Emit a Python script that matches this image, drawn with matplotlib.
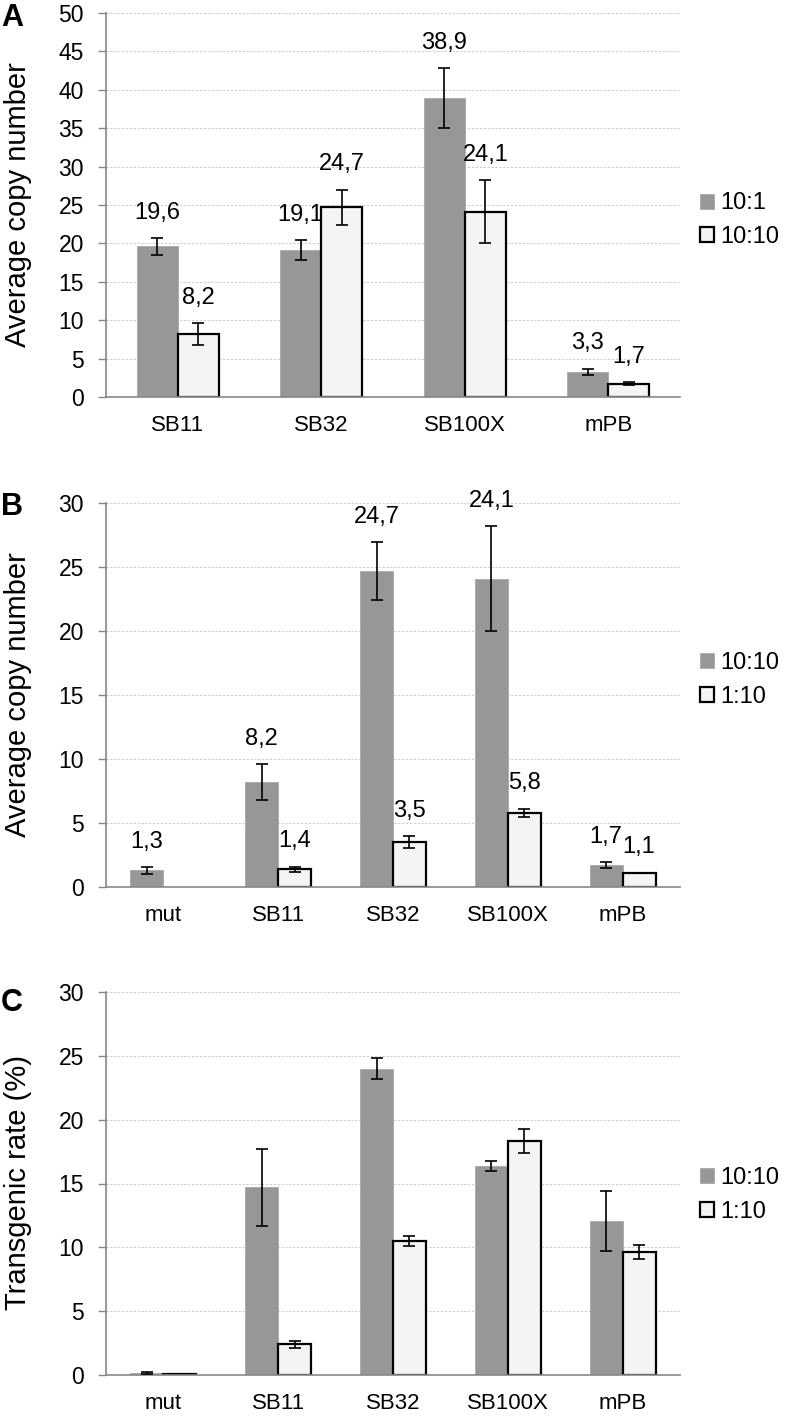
import numpy as np
import matplotlib.pyplot as plt
from matplotlib.patches import Patch

plt.rcParams['font.family'] = ['Liberation Sans', 'DejaVu Sans']

# panel A
cats_a = ['SB11', 'SB32', 'SB100X', 'mPB']
a_101 = [19.6, 19.1, 38.9, 3.3]
a_101_err = [1.1, 1.3, 3.9, 0.4]
a_1010 = [8.2, 24.7, 24.1, 1.7]
a_1010_err = [1.4, 2.3, 4.1, 0.2]

# panels B and C
cats_bc = ['mut', 'SB11', 'SB32', 'SB100X', 'mPB']
b_1010 = [1.3, 8.2, 24.7, 24.1, 1.7]
b_1010_err = [0.25, 1.4, 2.25, 4.1, 0.25]
b_110 = [np.nan, 1.4, 3.5, 5.8, 1.1]
b_110_err = [0.0, 0.2, 0.45, 0.3, 0.0]

c_1010 = [0.15, 14.7, 24.0, 16.4, 12.1]
c_1010_err = [0.08, 3.0, 0.85, 0.4, 2.35]
c_110 = [0.1, 2.4, 10.5, 18.3, 9.6]
c_110_err = [0.0, 0.28, 0.4, 0.95, 0.55]

GRAY = '#979797'
LIGHT = '#f4f4f4'
AXC = '#878787'


def draw_panel(ax, cats, s1, e1, s2, e2, ymax, names, labels, leg_y):
    x = np.arange(len(cats))
    w = 0.287
    s1 = np.array(s1, dtype=float)
    s2 = np.array(s2, dtype=float)
    e1 = np.array(e1, dtype=float)
    e2 = np.array(e2, dtype=float)
    ax.set_axisbelow(True)
    ax.yaxis.grid(True, color='#cdcdcd', linestyle=(0, (2, 1.5)), linewidth=0.8)
    ax.bar(x - w / 2, s1, w, color=GRAY, edgecolor='#a8a8a8', linewidth=0.6, zorder=2)
    ok = ~np.isnan(s2)
    ax.bar(x[ok] + w / 2, s2[ok], w, color=LIGHT, edgecolor='black', linewidth=1.6, zorder=2)
    m = e1 > 0
    ax.errorbar(x[m] - w / 2, s1[m], yerr=e1[m], fmt='none', ecolor='black',
                elinewidth=1.2, capsize=4, capthick=1.2, zorder=3)
    m = (e2 > 0) & ok
    ax.errorbar(x[m] + w / 2, s2[m], yerr=e2[m], fmt='none', ecolor='black',
                elinewidth=1.2, capsize=4, capthick=1.2, zorder=3)
    if labels:
        for xs, vals, errs in [(x - w / 2, s1, e1), (x + w / 2, s2, e2)]:
            for xi, v, er in zip(xs, vals, errs):
                if np.isnan(v):
                    continue
                ax.annotate(f'{v:.1f}'.replace('.', ','), (xi, v + er), xytext=(0, 14),
                            textcoords='offset points', ha='center', va='baseline', fontsize=17)
    ax.set_xlim(-0.5, len(cats) - 0.5)
    ax.set_ylim(0, ymax)
    ax.set_yticks(np.arange(0, ymax + 1, 5))
    ax.set_xticks(x)
    ax.set_xticklabels(cats)
    ax.tick_params(axis='x', length=0, pad=13, labelsize=16)
    ax.tick_params(axis='y', length=6, color=AXC, width=1, labelsize=16.5, pad=10)
    for s in ['top', 'right']:
        ax.spines[s].set_visible(False)
    for s in ['left', 'bottom']:
        ax.spines[s].set_color(AXC)
        ax.spines[s].set_linewidth(1.2)
    handles = [Patch(facecolor=GRAY, edgecolor='#a8a8a8', linewidth=0.6),
               Patch(facecolor=LIGHT, edgecolor='black', linewidth=1.6)]
    ax.legend(handles, names, loc='center left', bbox_to_anchor=(1.035, leg_y), frameon=False,
              fontsize=17, handlelength=0.6, handleheight=0.6, handletextpad=0.25,
              labelspacing=0.5, borderaxespad=0, borderpad=0)


fig = plt.figure(figsize=(7.98, 14.16), dpi=100)
W, H = 798.0, 1416.0
left = 106 / W
width = 574 / W

axA = fig.add_axes([left, 1 - 397 / H, width, 384 / H])
axB = fig.add_axes([left, 1 - 887 / H, width, 384 / H])
axC = fig.add_axes([left, 1 - 1375 / H, width, 383 / H])

draw_panel(axA, cats_a, a_101, a_101_err, a_1010, a_1010_err, 50, ['10:1', '10:10'], True, 0.46)
draw_panel(axB, cats_bc, b_1010, b_1010_err, b_110, b_110_err, 30, ['10:10', '1:10'], True, 0.54)
draw_panel(axC, cats_bc, c_1010, c_1010_err, c_110, c_110_err, 30, ['10:10', '1:10'], False, 0.47)

fig.text(18 / W, 1 - 205 / H, 'Average copy number', rotation=90, ha='center', va='center', fontsize=21)
fig.text(18 / W, 1 - 695 / H, 'Average copy number', rotation=90, ha='center', va='center', fontsize=21)
fig.text(18 / W, 1 - 1183 / H, 'Transgenic rate (%)', rotation=90, ha='center', va='center', fontsize=21)

fig.text(1 / W, 1 - 3 / H, 'A', fontsize=22, fontweight='bold', ha='left', va='top')
fig.text(1 / W, 1 - 492 / H, 'B', fontsize=22, fontweight='bold', ha='left', va='top')
fig.text(1 / W, 1 - 988 / H, 'C', fontsize=22, fontweight='bold', ha='left', va='top')

fig.savefig('out.png', dpi=100)
